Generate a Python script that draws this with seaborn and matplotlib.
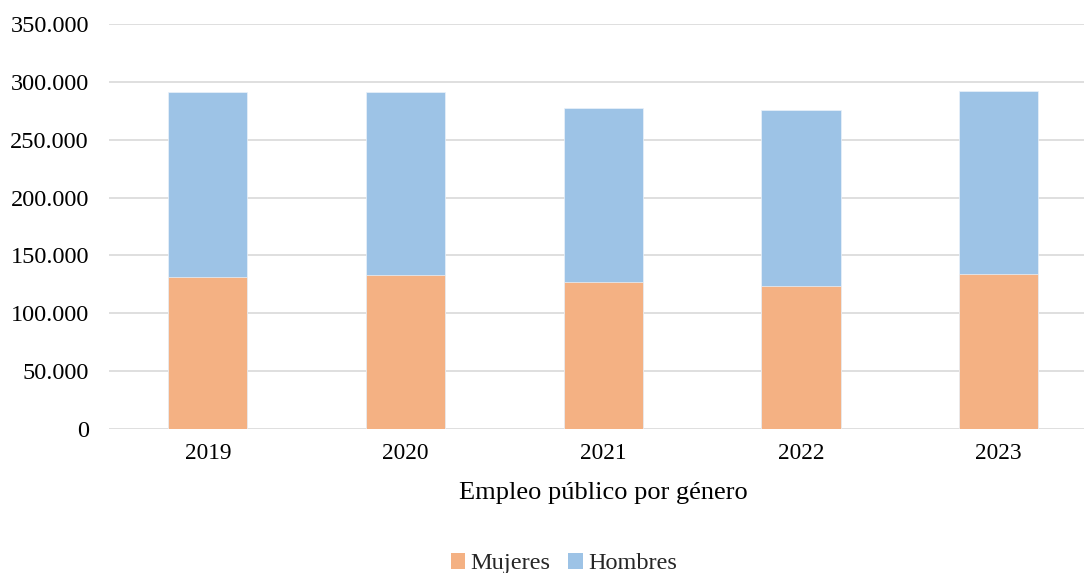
import matplotlib
matplotlib.use("Agg")
import matplotlib.pyplot as plt
import seaborn as sns
import pandas as pd
import numpy as np
from matplotlib.patches import Patch

years = ["2019", "2020", "2021", "2022", "2023"]
mujeres = [131400, 133300, 126800, 123900, 134300]
hombres = [159900, 158300, 151000, 151800, 157800]
yticks = [0, 50000, 100000, 150000, 200000, 250000, 300000, 350000]
ytick_labels = ["0", "50.000", "100.000", "150.000", "200.000", "250.000", "300.000", "350.000"]
xlabel = "Empleo público por género"
series_names = ["Mujeres", "Hombres"]
col_m = "#F4B183"
col_h = "#9DC3E6"

sns.set_theme(style="white")
plt.rcParams["font.family"] = ["Liberation Serif", "DejaVu Serif"]

df = pd.DataFrame({"year": years, "Mujeres": mujeres, "Hombres": hombres})
df["Total"] = df["Mujeres"] + df["Hombres"]

fig = plt.figure(figsize=(10.84, 5.73), dpi=100)
ax = fig.add_axes([109 / 1084, 1 - 429 / 573, (1097.6 - 109) / 1084, (429 - 24) / 573])

sns.barplot(data=df, x="year", y="Total", color=col_h, width=0.4, ax=ax,
            saturation=1, edgecolor="#EAF2FA", linewidth=0.5, zorder=3)
sns.barplot(data=df, x="year", y="Mujeres", color=col_m, width=0.4, ax=ax,
            saturation=1, edgecolor="#EAF2FA", linewidth=0.5, zorder=3)

ax.set_ylim(0, 350000)
ax.set_xlim(-0.5, 4.5)
ax.set_yticks(yticks)
ax.set_yticklabels(ytick_labels)
ax.yaxis.grid(True, color="#D9D9D9", linewidth=1.2, zorder=0)
ax.set_axisbelow(True)
for s in ax.spines.values():
    s.set_visible(False)
ax.tick_params(axis="both", length=0, colors="#000000")
ax.tick_params(axis="y", pad=14.5, labelsize=17.5)
ax.tick_params(axis="x", pad=10, labelsize=16.8)
ax.set_ylabel("")
ax.set_xlabel(xlabel, fontsize=19, labelpad=13, color="#000000")

handles = [Patch(facecolor=col_m, edgecolor="none", label=series_names[0]),
           Patch(facecolor=col_h, edgecolor="none", label=series_names[1])]
fig.legend(handles=handles, loc="center", bbox_to_anchor=(0.52, 0.016), ncol=2,
           frameon=False, fontsize=17.5, handlelength=0.6, handleheight=0.6,
           handletextpad=0.2, columnspacing=0.75)

fig.savefig("out.png", dpi=100)
